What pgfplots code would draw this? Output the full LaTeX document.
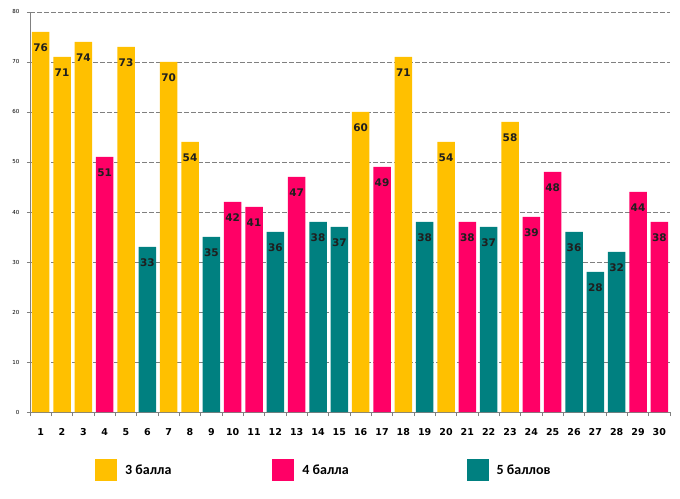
\documentclass[border=0pt]{standalone}
\usepackage{fontspec}
\setmainfont{DejaVu Sans}
\newfontfamily\legfont{Carlito}
\usepackage{pgfplots}
\pgfplotsset{compat=1.18}
\definecolor{cY}{HTML}{FFC000}
\definecolor{cP}{HTML}{FF0066}
\definecolor{cT}{HTML}{008080}
\definecolor{gridg}{HTML}{808080}
\begin{document}
\begin{tikzpicture}
\useasboundingbox (0,0) rectangle (680pt,498pt);
\begin{axis}[
  at={(30pt,86pt)}, anchor=south west,
  scale only axis, width=640pt, height=400pt,
  xmin=0.5, xmax=30.5, ymin=0, ymax=80,
  axis lines*=left,
  axis line style={gridg, line width=0.8pt},
  xtick={1,...,30},
  major x tick style={draw=none},
  minor xtick={0.5,1.5,...,30.5},
  minor x tick style={gridg, line width=0.8pt},
  ytick={0,10,...,80},
  tick align=outside,
  major tick length=3pt, minor tick length=4pt,
  y tick style={gridg, line width=0.8pt},
  ymajorgrids,
  major grid style={gridg, line width=0.9pt, dash pattern=on 4.5pt off 2.5pt},
  /pgf/number format/assume math mode=true,
  xticklabel style={font=\bfseries\fontsize{9.5}{10}\selectfont, yshift=-10pt},
  yticklabel style={font=\fontsize{5.5}{6}\selectfont, xshift=-4pt},
  ybar, bar width=17.5pt,
  nodes near coords,
  every node near coord/.append style={anchor=north, yshift=-8pt, font=\bfseries\fontsize{10.5}{11}\selectfont, text=black!88},
  legend columns=3,
  legend style={draw=none, at={(0.0969,-0.145)}, anchor=west, font=\legfont\bfseries\fontsize{14}{15}\selectfont,
    /tikz/column 2/.style={column sep=99pt},
    /tikz/column 4/.style={column sep=116pt}},
  legend image code/.code={\fill[#1] (0pt,-11pt) rectangle (22pt,11pt); \path (28pt,0pt);},
]
\addplot[fill=cY, draw=none, bar shift=0pt] coordinates {
 (1,76) (2,71) (3,74) (5,73) (7,70) (8,54) (16,60) (18,71) (20,54) (23,58)};
\addplot[fill=cP, draw=none, bar shift=0pt] coordinates {
 (4,51) (10,42) (11,41) (13,47) (17,49) (21,38) (24,39) (25,48) (29,44) (30,38)};
\addplot[fill=cT, draw=none, bar shift=0pt] coordinates {
 (6,33) (9,35) (12,36) (14,38) (15,37) (19,38) (22,37) (26,36) (27,28) (28,32)};
\legend{3 балла, 4 балла, 5 баллов}
\end{axis}
\end{tikzpicture}
\end{document}
